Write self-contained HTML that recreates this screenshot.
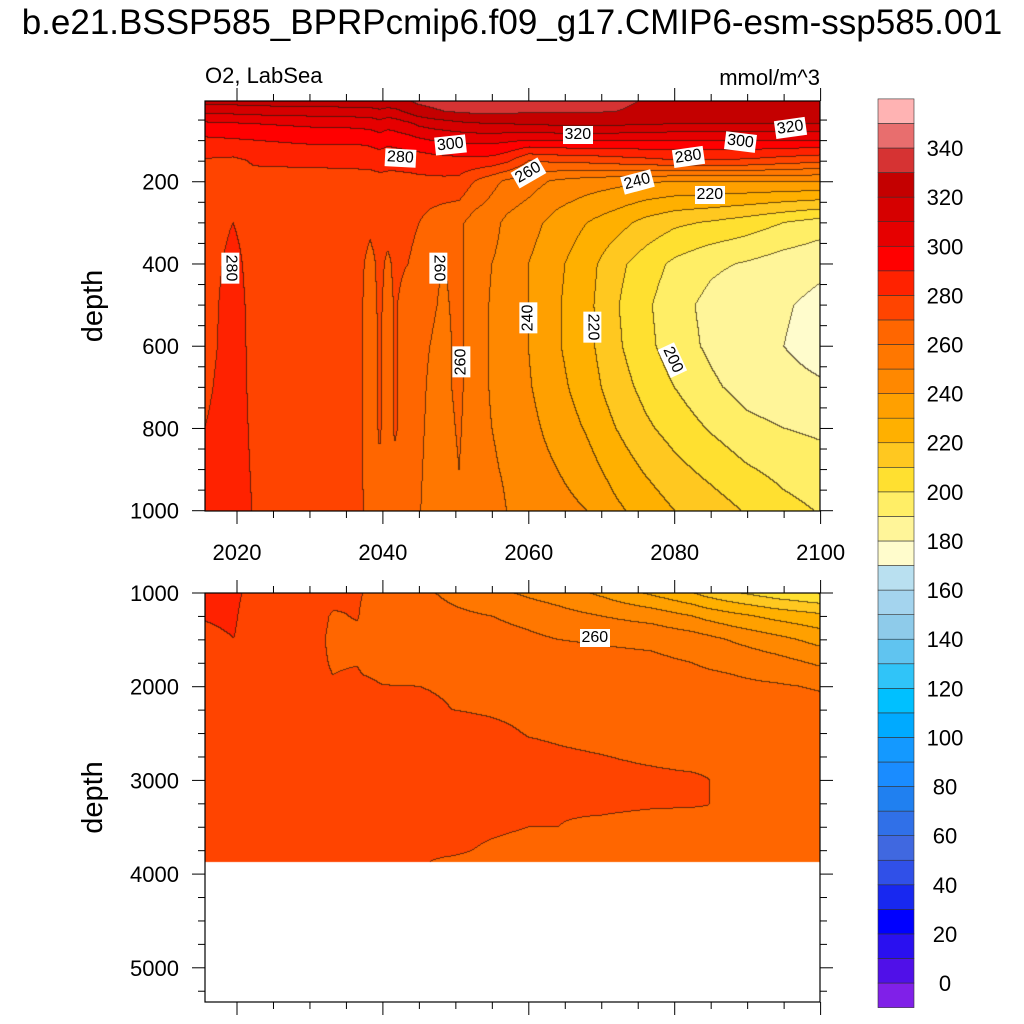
<!DOCTYPE html>
<html><head><meta charset="utf-8"><style>
html,body{margin:0;padding:0;background:#fff;}
body{width:1024px;height:1024px;position:relative;overflow:hidden;font-family:"Liberation Sans",sans-serif;}
.abs{position:absolute;}
canvas{position:absolute;}
.lbl{position:absolute;background:#fff;font-size:16px;line-height:16px;padding:1px 2px;transform-origin:center;white-space:nowrap;color:#000;}
</style></head><body>
<div class="abs" style="left:0;width:1024px;top:3px;text-align:center;font-size:35px;">b.e21.BSSP585_BPRPcmip6.f09_g17.CMIP6-esm-ssp585.001</div>
<div class="abs" style="left:205px;top:63px;font-size:22px;">O2, LabSea</div>
<div class="abs" style="left:620px;width:200px;text-align:right;top:65px;font-size:22px;">mmol/m^3</div>
<canvas id="c1" width="615" height="410" style="left:205px;top:101px;"></canvas>
<canvas id="c2" width="615" height="409" style="left:205px;top:593px;"></canvas>
<svg id="ov" width="1024" height="1024" class="abs" style="left:0;top:0"></svg>
<div id="labels"></div>
<script>
const colors=['#8020E8','#5010E8','#2A10F0','#0000FF','#1828F0','#3050E8','#4068E0','#3070E8','#2080F0','#1A8CFF','#1499FF','#00AAFF','#00C0FF','#30C4F8','#60C4F0','#8ECBEA','#A4D4EE','#B9E0F0','#FFFCCC','#FFF599','#FFEE66','#FFE030','#FFC820','#FFB000','#FFA000','#FF8800','#FF7700','#FF6600','#FF4400','#FF2200','#FF0000','#E60000','#D60000','#C40000','#D63333','#E86E6E','#FFB3B3'];
const cbTicks=[0,20,40,60,80,100,120,140,160,180,200,220,240,260,280,300,320,340];
const yearsTop=[2015.6,2019.5,2022.5,2030,2036.5,2038.3,2039.6,2040.7,2041.7,2043.5,2045,2046.5,2048.5,2050.5,2052.5,2055,2057,2060,2064,2068,2072,2076,2080,2085,2090,2095,2100.5];
const depthsTop=[5,30,60,100,150,200,300,400,500,600,700,800,900,1000];
const valsTop=[
[324,312,298,288,279,276,275,275,275,275,277,280,282,284],
[324,313,299,289,278,279,280,283,285,286,287,287,287,287],
[325,314,300,290,281,277,276,276,276,276,276,277,278,279],
[326,315,302,292,282,276,275,275,275,275,275,275,275,275],
[326,316,303,292,282,277,276,275,274,274,274,274,274,273],
[327,316,304,293,283,276,273,266,265,265,265,265,265,267],
[328,318,306,295,284,277,275,273,272,271,271,271,269,269],
[327,316,304,293,283,277,274,268,266,266,266,266,267,268],
[328,317,305,294,283,277,274,272,271,271,271,271,268,266],
[329,322,308,296,284,277,274,270,266,266,266,266,265,264],
[332,326,312,298,284,278,270,265,264,264,264,263,262,261],
[333,328,314,300,285,278,266,261,261,260,258,257,256,255],
[334,330,316,301,286,278,263,260,259,258,258,257,256,255],
[335,331,318,302,287,277,262,262,262,262,262,261,260,255],
[336,332,319,303,287,270,256,255,255,255,255,255,255,254],
[336,332,320,303,286,263,253,250,249,249,249,250,251,253],
[336,332,320,302,282,258,248,247,246,246,247,248,249,250],
[335,331,321,300,270,254,244,240,240,240,241,243,245,247],
[335,331,322,301,272,248,236,232,231,231,233,236,240,244],
[334,331,322,301,273,245,230,224,223,223,225,229,234,240],
[333,330,322,301,275,243,224,213,211,212,215,220,226,232],
[329,327,321,300,277,241,217,205,202,203,207,212,219,226],
[328,326,320,300,279,240,212,198,194,195,200,206,213,220],
[327,325,320,300,279,240,209,192,187,188,192,199,207,215],
[326,324,320,300,278,240,205,189,182,182,186,193,201,209],
[325,323,320,300,275,240,200,185,181,180,183,190,197,203],
[325,323,320,300,272,240,195,182,177,176,181,188,194,199]];
const yearsBot=[2015.6,2019.6,2020.7,2022,2030,2033.2,2036.5,2037.3,2040,2045,2049.5,2055,2060,2064,2070,2077,2082.5,2084.5,2088,2094,2100.5];
const depthsBot=[1000,1250,1500,1750,2000,2250,2500,2750,3000,3250,3500,3750,3870];
const valsBot=[
[285,281,276,275,274,273,273,273,273,273,273,273,275],
[286,283,279.8,276,275,274,274,274,274,274,274,274,274],
[280,277,276,275,275,274,274,274,274,274,274,274,274],
[277,276,275,275,275,274,274,274,274,274,274,274,274],
[275,275,274,274,273,273,273,273,273,273,273,273,273],
[273,269,268,269,271,274,274,274,274,274,274,273,273],
[271,270.5,268,269.5,273,274,274,274,274,274,274,273,273],
[270,269,268,268,272,274,274,274,274,274,274,273,273],
[268,267,266,267,270.2,273,273,273,273,273,273,273,272],
[262,264,266,267,270,272,273,273,273,273,272,271,270.5],
[258,262,265,267,269,270,272,273,273,273,272,271,269],
[253,260,264,266,268,269.5,271,272,273,272,271,269,268],
[248,257,262,265,267,269,269.8,271,272,271,270,268,267],
[245,254,260,264,266,268,269.5,270.5,271,270.5,270,268,267],
[238,250,259,263,265,267,269,270.1,271,271,269,267,266],
[228,246,258,262,264,266,268,269.5,270.7,270.6,268,266,265],
[220,240,255,260,263,265,267,269,270.5,270.4,268,266,265],
[216,237,253,259,263,265,267,269,270.1,270.2,268,266,265],
[211,233,249,258,262,264,266,268,269,268,267,266,265],
[204,227,243,254,261,264,266,267,268,267,266,265,264],
[199,222,236,248,259,263,266,267,268,267,266,265,264]];
const xTicks=[2020,2040,2060,2080,2100];
const yTicksTop=[200,400,600,800,1000];
const yTicksBot=[1000,2000,3000,4000,5000];

const xS=yr=>237+(yr-2020)*7.295;
const xInv=px=>2020+(px-237)/7.295;
const yTop=d=>99.5+d*0.4112;
const yTopInv=py=>(py-99.5)/0.4112;
const yBot=d=>593+(d-1000)*0.0937;
const yBotInv=py=>1000+(py-593)/0.0937;

function hex(c){return [parseInt(c.substr(1,2),16),parseInt(c.substr(3,2),16),parseInt(c.substr(5,2),16)];}
const rgb=colors.map(hex);
function findIdx(arr,v){if(v<=arr[0])return [0,0];if(v>=arr[arr.length-1])return [arr.length-2,1];
 for(let i=0;i<arr.length-1;i++){if(v>=arr[i]&&v<=arr[i+1])return [i,(v-arr[i])/(arr[i+1]-arr[i])];}return [0,0];}
function render(id,years,depths,vals,left,top,yInv){
 const cv=document.getElementById(id),ctx=cv.getContext('2d');const W=cv.width,H=cv.height;
 const img=ctx.createImageData(W,H);const lev=new Int16Array(W*H).fill(-1);
 const dmax=depths[depths.length-1];
 for(let py=0;py<H;py++){let d=yInv(top+py+0.5);if(d>dmax)continue;if(d<depths[0])d=depths[0];
  const [j,fy]=findIdx(depths,d);
  for(let px=0;px<W;px++){const yr=xInv(left+px+0.5);const [i,fx]=findIdx(years,yr);
   const v=(vals[i][j]*(1-fx)+vals[i+1][j]*fx)*(1-fy)+(vals[i][j+1]*(1-fx)+vals[i+1][j+1]*fx)*fy;
   let k=Math.floor(v/10)+1;k=Math.max(0,Math.min(colors.length-1,k));lev[py*W+px]=k;}}
 for(let p=0;p<W*H;p++){const o=p*4;const k=lev[p];
  if(k<0){img.data[o]=255;img.data[o+1]=255;img.data[o+2]=255;img.data[o+3]=255;continue;}
  let c=rgb[k];const px=p%W;
  let edge=(px<W-1&&lev[p+1]>=0&&lev[p+1]!==k)||(p+W<W*H&&lev[p+W]>=0&&lev[p+W]!==k);
  if(edge){img.data[o]=c[0]*0.3+40*0.7;img.data[o+1]=c[1]*0.3+25*0.7;img.data[o+2]=c[2]*0.3+15*0.7;}
  else{img.data[o]=c[0];img.data[o+1]=c[1];img.data[o+2]=c[2];}
  img.data[o+3]=255;}
 ctx.putImageData(img,0,0);
}
render('c1',yearsTop,depthsTop,valsTop,205,101,yTopInv);
render('c2',yearsBot,depthsBot,valsBot,205,593,yBotInv);

const ns='http://www.w3.org/2000/svg';const svg=document.getElementById('ov');
function el(tag,attrs,parent){const e=document.createElementNS(ns,tag);for(const k in attrs)e.setAttribute(k,attrs[k]);(parent||svg).appendChild(e);return e;}
function panel(top,bottom,yf,ticks,minorStep,dmin,dmax,name){
 const g=el('g',{});
 
 
 el('rect',{x:205,y:top,width:615,height:bottom-top,fill:'none',stroke:'#000','stroke-width':1.2},g);
 for(let yr=2015;yr<=2100;yr+=5){const x=xS(yr);if(x<204)continue;const maj=yr%20===0;const L=maj?13:7;
  el('line',{x1:x,x2:x,y1:top,y2:top-L,stroke:'#000','stroke-width':1},g);
  el('line',{x1:x,x2:x,y1:bottom,y2:bottom+L,stroke:'#000','stroke-width':1},g);}
 for(let d=dmin;d<=dmax;d+=minorStep){const y=yf(d);if(y<top-0.5||y>bottom+0.5)continue;const maj=ticks.includes(d);const L=maj?13:7;
  el('line',{x1:205,x2:205-L,y1:y,y2:y,stroke:'#000','stroke-width':1},g);
  el('line',{x1:820,x2:820+L,y1:y,y2:y,stroke:'#000','stroke-width':1},g);}
 ticks.forEach(d=>{const t=el('text',{x:179,y:yf(d)+8,'text-anchor':'end','font-size':22,'font-family':'Liberation Sans'},g);t.textContent=d;
  
  });
 const yl=el('text',{x:0,y:0,transform:`translate(102,${(top+bottom)/2}) rotate(-90)`,'text-anchor':'middle','font-size':29,'font-family':'Liberation Sans'},g);yl.textContent='depth';
 
 
}
panel(101,511,yTop,yTicksTop,50,0,1000,'upper');
panel(593,1002,yBot,yTicksBot,250,1000,5500,'lower');
xTicks.forEach(yr=>{const t=el('text',{x:xS(yr),y:560,'text-anchor':'middle','font-size':22,'font-family':'Liberation Sans'});t.textContent=yr;
 
 });
const cbTop=98.9,cbBot=1007.6,bh=(cbBot-cbTop)/colors.length;
const cb=el('g',{});


colors.forEach((c,i)=>{const r=el('rect',{x:878,y:cbBot-(i+1)*bh,width:36,height:bh,fill:c,stroke:'#333','stroke-width':0.6},cb);
 
 });
cbTicks.forEach(v=>{const idx=v/10+1;const y=cbBot-idx*bh;const t=el('text',{x:945,y:y+8,'text-anchor':'middle','font-size':22,'font-family':'Liberation Sans'},cb);t.textContent=v;
 
 });
const lblText=['280','280','300','320','260','240','280','300','320','220','260','260','240','220','200','260'];
const lblPos=[[230,268,90],[400,158,3],[450,145,-6],[578,135,0],[528,173,-30],[637,182,-15],[688,157,-8],[740,142,7],[790,128,-8],[710,195,0],[438,268,90],[461,362,-90],[528,318,-90],[592,327,90],[672,360,65],[595,638,0]];
const L=document.getElementById('labels');
lblText.forEach((s,i)=>{const d=document.createElement('div');d.className='lbl';d.textContent=s;
 
 
 L.appendChild(d);const w=d.offsetWidth,h=d.offsetHeight;const p=lblPos[i];
 d.style.left=(p[0]-w/2)+'px';d.style.top=(p[1]-h/2)+'px';d.style.transform='rotate('+p[2]+'deg)';});
</script>
</body></html>
